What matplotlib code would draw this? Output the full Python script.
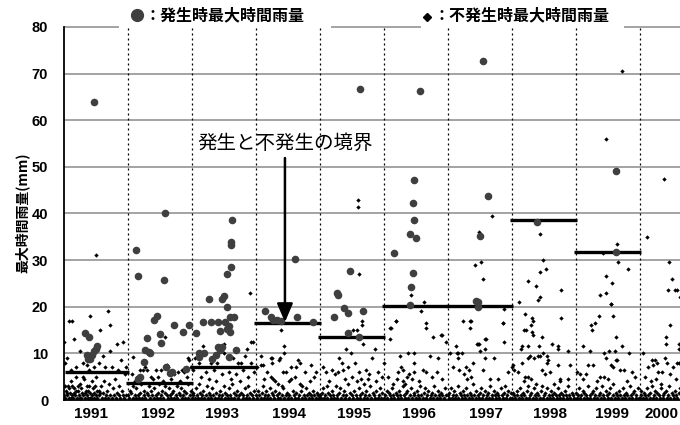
import matplotlib
matplotlib.use("Agg")
import matplotlib.pyplot as plt
from matplotlib.lines import Line2D

# ---------------- data ----------------
years = [1991, 1992, 1993, 1994, 1995, 1996, 1997, 1998, 1999, 2000]
year_labels = ["1991", "1992", "1993", "1994", "1995", "1996", "1997", "1998", "1999", "2000"]
# boundary (threshold) between occurrence / non-occurrence, per year (None = not drawn)
thresholds = [6.0, 3.7, 7.15, 16.45, 13.6, 20.2, 20.2, 38.5, 31.7, None]
y_ticks = [0, 10, 20, 30, 40, 50, 60, 70, 80]

# occurrence: (fraction of year, max hourly rainfall mm)
wet_1991 = [(.48, 64), (.34, 14.3), (.40, 13.5), (.36, 9.7), (.38, 8.9), (.41, 8.7), (.45, 9.7),
            (.47, 10.5), (.50, 10.9), (.53, 11.6)]
wet_1992 = [(.14, 32.2), (.59, 40.2), (.17, 26.7), (.57, 25.7), (.46, 18.1), (.41, 17.2), (.31, 13.2),
            (.51, 14.2), (.53, 12.2), (.27, 10.7), (.33, 10.4), (.35, 10.0), (.25, 8.2), (.60, 7.1),
            (.70, 6.1), (.67, 5.7), (.20, 5.0), (.17, 4.4), (.72, 16.1), (.87, 14.5), (.96, 16.1), (.92, 6.6)]
wet_1993 = [(.64, 38.6), (.61, 33.8), (.61, 33.3), (.62, 28.6), (.55, 27.0), (.28, 21.6), (.50, 22.2),
            (.48, 21.6), (.55, 20.0), (.18, 16.8), (.30, 16.8), (.42, 16.8), (.52, 16.8), (.60, 17.7),
            (.66, 17.7), (.59, 15.9), (.55, 15.2), (.60, 14.5), (.45, 14.7), (.07, 14.3), (.11, 10.0),
            (.12, 9.2), (.20, 10.0), (.32, 8.9), (.38, 9.7), (.42, 11.4), (.47, 11.3), (.45, 10.7),
            (.58, 9.2), (.69, 10.7)]
wet_1994 = [(.62, 30.2), (.15, 19.1), (.24, 17.7), (.28, 17.2), (.33, 17.2), (.40, 17.0), (.65, 17.7), (.90, 16.8)]
wet_1995 = [(.63, 66.8), (.27, 23.0), (.29, 22.5), (.47, 27.7), (.39, 19.7), (.45, 18.7), (.68, 19.1),
            (.23, 17.7), (.45, 14.3), (.61, 13.6)]
wet_1996 = [(.57, 66.2), (.48, 47.2), (.46, 42.2), (.48, 38.6), (.41, 35.7), (.51, 34.7), (.16, 31.6),
            (.46, 27.2), (.43, 24.2), (.41, 20.4)]
wet_1997 = [(.55, 72.8), (.63, 43.8), (.50, 35.2), (.45, 21.3), (.48, 21.1), (.47, 20.0)]
wet_1998 = [(.40, 38.2)]
wet_1999 = [(.63, 49.2), (.63, 31.7)]
wet_2000 = []

# non-occurrence: (fraction of year, max hourly rainfall mm)
dry_1991 = [(.51, 31), (.42, 18), (.69, 19), (.13, 17), (.09, 17), (.72, 16), (.57, 15), (.17, 13), (.01, 12.5),
            (.83, 12), (.93, 12.5), (.73, 10.5), (.25, 10.5), (.61, 9.5), (.90, 8.5), (.05, 9), (.30, 8), (.47, 7),
            (.36, 7.5), (.75, 7), (.20, 7), (.55, 8), (.85, 6.5), (.65, 7), (.12, 6.5), (.40, 6.5), (.97, 7), (.02, 8),
            (.01, 1), (.03, .5), (.04, 2), (.06, 1), (.07, 3), (.09, .5), (.10, 1.5), (.12, 4), (.13, 1), (.15, .5),
            (.16, 2.5), (.18, 1), (.19, 5), (.21, .5), (.22, 2), (.24, 1), (.26, 3.5), (.27, .5), (.29, 1.5),
            (.31, 1), (.32, 4.5), (.34, .5), (.35, 2), (.37, 1), (.38, .5), (.40, 3), (.42, 1.5), (.43, .5),
            (.45, 1), (.46, 2.5), (.48, .5), (.50, 5), (.51, 1), (.53, .5), (.55, 2), (.56, 1), (.58, 3), (.60, .5),
            (.61, 1.5), (.63, 4), (.65, .5), (.66, 1), (.68, 2), (.70, .5), (.71, 3.5), (.73, 1), (.75, .5),
            (.77, 2.5), (.79, 1), (.80, 4.5), (.82, .5), (.84, 1.5), (.86, 1), (.87, 3), (.89, .5), (.91, 2),
            (.93, 1), (.95, .5), (.96, 5.5), (.98, 1), (.02, 3), (.05, 1.5), (.08, 2.5), (.11, .5), (.14, 3),
            (.17, 1.5), (.20, 2), (.23, 3), (.25, .5), (.28, 2.5), (.30, 5), (.33, 1.5), (.36, 3), (.39, 2),
            (.41, .5), (.44, 4), (.47, 1.5), (.49, 3), (.52, 2), (.57, 1.5)]
dry_1992 = [(.08, 9.3), (.20, 6.5), (.24, 6.5), (.31, 6.5), (.44, 6.5), (.52, 6.5), (.62, 7.5), (.07, 5.5),
            (.58, 13.5), (.94, 9), (.96, 8.5), (.64, 7), (.79, 6), (.85, 6.5), (.89, 6), (.36, 5), (.48, 5), (.15, 5),
            (.72, 5.5), (.99, 7), (.28, 7), (.40, 4.5), (.55, 4), (.68, 4.5), (.82, 4), (.12, 4), (.93, 5),
            (.01, 1), (.02, .5), (.04, 2), (.06, 1.5), (.08, .5), (.09, 3), (.11, 1), (.13, .5), (.14, 2.5), (.16, 1),
            (.18, .5), (.19, 1.5), (.21, 3.5), (.23, .5), (.25, 1), (.26, 2), (.28, .5), (.30, 1.5), (.32, 1),
            (.33, 3), (.35, .5), (.37, 2), (.39, 1), (.41, .5), (.42, 2.5), (.44, 1), (.46, .5), (.47, 1.5),
            (.49, 3.5), (.51, .5), (.53, 1), (.54, 2), (.56, .5), (.58, 1.5), (.59, 3), (.61, 1), (.63, .5),
            (.65, 2.5), (.66, 1), (.68, .5), (.70, 1.5), (.71, 2), (.73, .5), (.75, 1), (.77, 3), (.78, .5),
            (.80, 1.5), (.82, 1), (.84, 2.5), (.85, .5), (.87, 1), (.89, 2), (.90, .5), (.92, 1.5), (.94, 3.5),
            (.95, .5), (.97, 1), (.99, 2)]
dry_1993 = [(.91, 23), (.96, 12.5), (.18, 11.5), (.50, 12), (.93, 12.5), (.83, 9.5), (.78, 8), (.93, 8), (.51, 10),
            (.06, 9), (.30, 8), (.65, 9), (.72, 8), (.40, 8), (.12, 8), (.86, 11), (.03, 6.5), (.22, 6), (.35, 6.5),
            (.47, 5.5), (.58, 6), (.70, 5.5), (.80, 6.5), (.88, 5), (.15, 5), (.27, 4.5), (.62, 4.5), (.97, 6),
            (.00, .5), (.02, 1.5), (.03, 1), (.05, .5), (.07, 2.5), (.08, 1), (.10, .5), (.12, 3.5), (.13, 1.5),
            (.15, .5), (.17, 1), (.18, 2), (.20, .5), (.22, 1), (.24, 3), (.25, .5), (.27, 1.5), (.29, 1), (.31, .5),
            (.32, 2.5), (.34, 1), (.36, .5), (.38, 4), (.39, 1.5), (.41, .5), (.43, 1), (.45, 2), (.46, .5),
            (.48, 1), (.50, 3), (.52, .5), (.53, 1.5), (.55, 1), (.57, .5), (.59, 2.5), (.60, 1), (.62, .5),
            (.64, 3.5), (.66, 1.5), (.67, .5), (.69, 1), (.71, 2), (.73, .5), (.74, 1), (.76, 4), (.78, 1.5),
            (.80, .5), (.81, 1), (.83, 2.5), (.85, .5), (.87, 1), (.88, 3), (.90, .5), (.92, 1.5), (.94, 1),
            (.96, .5), (.98, 2)]
dry_1994 = [(.40, 15), (.44, 11.5), (.44, 10), (.24, 9), (.26, 8), (.36, 8.5), (.69, 8), (.63, 7), (.87, 7.5),
            (.43, 6), (.48, 6), (.08, 9.5), (.67, 8.5), (.09, 7.5), (.11, 7.5), (.25, 9), (.38, 9), (.55, 7), (.95, 6),
            (.18, 6), (.78, 6), (.03, 7), (.24, 5), (.28, 4.5), (.30, 4), (.52, 4), (.55, 4.5), (.35, 3.5), (.42, 3),
            (.70, 3.5), (.73, 3), (.62, 5), (.85, 4), (.14, 4.5), (.92, 5),
            (.01, 1), (.03, .5), (.04, 2), (.06, 1), (.08, .5), (.10, 1.5), (.11, 3), (.13, .5), (.15, 1), (.17, 2),
            (.18, .5), (.20, 1), (.22, 2.5), (.23, .5), (.26, 1.5), (.28, 1), (.29, .5), (.31, 2), (.33, 1),
            (.35, .5), (.37, 1.5), (.39, .5), (.41, 1), (.43, 2.5), (.45, .5), (.47, 1), (.49, 1.5), (.50, .5),
            (.53, 1), (.56, .5), (.58, 2), (.60, 1), (.61, .5), (.64, 1.5), (.66, .5), (.68, 1), (.71, 2),
            (.72, .5), (.75, 1), (.77, .5), (.79, 2.5), (.81, 1), (.83, .5), (.84, 1.5), (.86, 1), (.88, .5),
            (.90, 2), (.92, 1), (.94, .5), (.96, 1.5), (.98, 1), (.99, .5)]
dry_1995 = [(.60, 43), (.60, 41.5), (.62, 27), (.66, 17), (.67, 16), (.58, 15), (.68, 12), (.41, 11), (.49, 10),
            (.53, 15), (.87, 11), (.31, 9), (.35, 8), (.20, 6.5), (.29, 6), (.36, 6.5), (.24, 5.5), (.73, 6.5),
            (.78, 5.5), (.65, 4.5), (.76, 4.5), (.45, 7), (.62, 6), (.92, 6), (.10, 6), (.05, 7), (.55, 8), (.82, 9),
            (.15, 4), (.40, 4.5), (.50, 5), (.58, 4), (.70, 3.5), (.88, 4), (.97, 5),
            (.00, 1), (.02, .5), (.04, 1.5), (.05, 2.5), (.07, .5), (.09, 1), (.11, 3), (.12, .5), (.14, 1.5),
            (.16, 1), (.18, .5), (.19, 2), (.21, 1), (.23, .5), (.25, 3), (.27, 1), (.28, .5), (.30, 1.5),
            (.32, 2.5), (.34, .5), (.36, 1), (.38, 2), (.40, .5), (.42, 1), (.44, 3.5), (.46, .5), (.48, 1.5),
            (.51, 1), (.52, .5), (.54, 2), (.57, 1), (.59, .5), (.61, 2.5), (.63, 1), (.64, .5), (.67, 1.5),
            (.69, .5), (.71, 1), (.72, 2), (.74, .5), (.77, 1), (.79, 3), (.80, .5), (.83, 1.5), (.85, 1),
            (.86, .5), (.89, 2), (.91, .5), (.93, 1), (.94, 2.5), (.96, .5), (.98, 1.5)]
dry_1996 = [(.20, 17), (.10, 15.5), (.10, 13), (.67, 16.5), (.66, 15.5), (.77, 13.5), (.90, 14), (.98, 12.5),
            (.43, 22.5), (.58, 19), (.19, 17), (.12, 15.5), (.64, 21), (.91, 14), (.26, 9.5), (.39, 10), (.47, 10),
            (.01, 8), (.47, 8), (.72, 9.5), (.85, 9), (.47, 6), (.62, 6.5), (.67, 6), (.83, 6), (.28, 7), (.31, 6.5),
            (.23, 6), (.40, 5.5), (.36, 5), (.44, 4.5), (.30, 4), (.34, 3.5), (.21, 4.5), (.55, 4), (.75, 5),
            (.92, 4.5), (.07, 5), (.15, 3.5),
            (.01, .5), (.03, 1), (.05, 2), (.06, .5), (.08, 1.5), (.10, 1), (.12, .5), (.13, 2.5), (.15, 1),
            (.17, .5), (.19, 1.5), (.21, 1), (.23, .5), (.24, 2), (.26, 1), (.28, .5), (.30, 3), (.32, 1),
            (.33, .5), (.35, 1.5), (.37, 2), (.39, .5), (.41, 1), (.43, 2.5), (.45, .5), (.47, 1.5), (.48, 1),
            (.50, .5), (.52, 2), (.54, 1), (.56, .5), (.57, 3), (.59, 1), (.61, .5), (.63, 1.5), (.65, 2.5),
            (.66, .5), (.68, 1), (.70, 2), (.72, .5), (.74, 1), (.76, 1.5), (.78, .5), (.79, 3), (.81, 1),
            (.83, .5), (.85, 2), (.87, 1), (.88, .5), (.90, 1.5), (.92, 1), (.94, .5), (.96, 2.5), (.98, 1)]
dry_1997 = [(.43, 29), (.53, 29.5), (.56, 26), (.49, 36), (.69, 39.5), (.24, 17), (.35, 17), (.35, 15.5),
            (.86, 16.5), (.88, 12.5), (.13, 11.5), (.47, 12), (.59, 13), (.59, 11), (.51, 10.5), (.16, 10), (.22, 10),
            (.89, 19.5), (.87, 16.5), (.60, 13), (.49, 12), (.73, 9), (.58, 9), (.56, 6.5), (.04, 10), (.15, 10),
            (.17, 9), (.40, 8), (.29, 7), (.18, 6.5), (.34, 6.5), (.25, 5.5), (.30, 4.5), (.37, 5), (.67, 4.5),
            (.79, 4.5), (.46, 12), (.36, 17), (.08, 7), (.95, 6),
            (.00, 1), (.02, .5), (.03, 1.5), (.05, 2.5), (.07, .5), (.08, 1), (.10, 2), (.12, .5), (.14, 1),
            (.16, 3), (.17, .5), (.19, 1.5), (.21, 1), (.22, .5), (.24, 2), (.26, 1), (.28, .5), (.29, 2.5),
            (.31, 1), (.33, .5), (.35, 1.5), (.37, 1), (.38, .5), (.40, 3.5), (.42, 1), (.44, .5), (.45, 2),
            (.47, 1), (.49, .5), (.51, 1.5), (.53, 2.5), (.54, .5), (.56, 1), (.58, 2), (.60, .5), (.61, 1),
            (.63, 1.5), (.65, .5), (.67, 3), (.69, 1), (.70, .5), (.72, 2), (.74, 1), (.76, .5), (.77, 1.5),
            (.79, 1), (.81, .5), (.83, 2.5), (.85, 1), (.86, .5), (.88, 1.5), (.90, 3), (.92, .5), (.93, 1),
            (.95, 2), (.97, .5), (.99, 1.5)]
dry_1998 = [(.45, 35.5), (.49, 30), (.45, 27.5), (.54, 28), (.26, 25.5), (.38, 24.5), (.42, 21.5), (.45, 22),
            (.11, 21), (.77, 23.5), (.21, 18.5), (.32, 17.5), (.33, 17), (.30, 16), (.19, 15), (.32, 14.5),
            (.47, 13.5), (.78, 17.5), (.63, 12), (.73, 11.5), (.16, 11.5), (.26, 11.5), (.43, 11.5), (.88, 10.5),
            (.22, 15), (.33, 14), (.73, 11), (.15, 11), (.25, 9), (.29, 9.5), (.35, 9), (.41, 9.5), (.44, 9.5),
            (.49, 10), (.55, 9.5), (.00, 7), (.03, 7.5), (.16, 8), (.55, 8), (.57, 8.5), (.73, 7.5), (.91, 7.5),
            (.04, 6.5), (.10, 6), (.21, 5), (.25, 5), (.31, 4.5), (.20, 4), (.48, 6.5), (.52, 5.5), (.60, 6),
            (.75, 4.5), (.76, 4), (.88, 4.5), (.66, 3.5), (.38, 3.5),
            (.01, .5), (.02, 1.5), (.04, 1), (.06, .5), (.08, 2), (.09, 1), (.11, .5), (.13, 2.5), (.15, 1),
            (.17, .5), (.18, 1.5), (.20, 1), (.22, .5), (.24, 2), (.26, 3), (.27, .5), (.29, 1), (.31, 1.5),
            (.33, .5), (.35, 2.5), (.36, 1), (.38, .5), (.40, 1.5), (.42, 1), (.44, .5), (.46, 2), (.47, 3),
            (.49, .5), (.51, 1), (.53, 1.5), (.55, .5), (.56, 2.5), (.58, 1), (.60, .5), (.62, 2), (.63, 1),
            (.65, .5), (.67, 1.5), (.69, 1), (.71, .5), (.72, 2.5), (.74, 1), (.76, .5), (.78, 1.5), (.80, 1),
            (.81, .5), (.83, 2), (.85, 1), (.87, .5), (.89, 3), (.90, 1), (.92, .5), (.94, 1.5), (.96, 1), (.98, .5)]
dry_1999 = [(.72, 70.5), (.48, 56), (.65, 33.5), (.43, 31.5), (.82, 28), (.47, 26.5), (.57, 25), (.39, 22.5),
            (.48, 23), (.56, 20.5), (.66, 29.5), (.55, 20.5), (.37, 18), (.58, 18), (.30, 16.5), (.24, 16),
            (.26, 15), (.63, 13.5), (.73, 11.5), (.12, 11.5), (.22, 10.5), (.45, 10), (.53, 10.5), (.61, 10.5),
            (.84, 10), (.48, 9), (.63, 8.5), (.65, 8.5), (.19, 7.5), (.27, 7.5), (.70, 6.5), (.75, 6.5), (.55, 7.5),
            (.58, 7), (.03, 6), (.07, 5.5), (.17, 5.5), (.88, 6), (.38, 5), (.45, 5), (.50, 4.5), (.12, 4.5),
            (.80, 4), (.93, 5), (.33, 4),
            (.00, 1.5), (.02, .5), (.04, 1), (.05, 2.5), (.07, .5), (.09, 1), (.11, 2), (.13, .5), (.14, 1.5),
            (.16, 1), (.18, .5), (.20, 3), (.22, 1), (.23, .5), (.25, 1.5), (.27, 2), (.29, .5), (.31, 1),
            (.32, 2.5), (.34, .5), (.36, 1), (.38, 1.5), (.40, .5), (.41, 3), (.43, 1), (.45, .5), (.47, 2),
            (.49, 1), (.50, .5), (.52, 1.5), (.54, 2.5), (.56, .5), (.58, 1), (.59, 3.5), (.61, .5), (.63, 1.5),
            (.65, 1), (.67, .5), (.68, 2), (.70, 1), (.72, .5), (.74, 2.5), (.76, 1), (.77, .5), (.79, 1.5),
            (.81, 1), (.83, .5), (.85, 3), (.86, 1), (.88, .5), (.90, 1.5), (.92, 2), (.94, .5), (.95, 1),
            (.97, 2.5), (.99, .5)]
dry_2000 = [(.39, 47.5), (.12, 35), (.46, 29.5), (.51, 26), (.45, 23.5), (.55, 23.5), (.63, 22), (.58, 23.5),
            (.48, 16), (.41, 13.5), (.42, 12), (.61, 12), (.61, 11), (.63, 11), (.05, 10), (.19, 8.5), (.24, 8.5),
            (.28, 8), (.40, 9), (.43, 8), (.14, 7), (.21, 7.5), (.29, 6), (.35, 6), (.58, 8), (.62, 8), (.66, 9),
            (.53, 7), (.47, 5.5), (.08, 5), (.25, 4.5), (.18, 4), (.57, 4.5), (.33, 3.5),
            (.00, .5), (.02, 1), (.03, 2), (.05, .5), (.07, 1.5), (.09, 1), (.10, .5), (.12, 2.5), (.14, 1),
            (.16, .5), (.17, 1.5), (.19, 3), (.21, .5), (.23, 1), (.24, 2), (.26, .5), (.28, 1.5), (.30, 1),
            (.32, .5), (.34, 2.5), (.36, 1), (.37, .5), (.39, 1.5), (.41, 2), (.43, .5), (.45, 1), (.46, 3),
            (.48, .5), (.50, 1.5), (.52, 1), (.54, .5), (.55, 2), (.57, 1), (.59, .5), (.61, 1.5), (.63, 2.5)]

wet_by_year = [wet_1991, wet_1992, wet_1993, wet_1994, wet_1995, wet_1996, wet_1997, wet_1998, wet_1999, wet_2000]
dry_by_year = [dry_1991, dry_1992, dry_1993, dry_1994, dry_1995, dry_1996, dry_1997, dry_1998, dry_1999, dry_2000]

# ---------------- figure ----------------
W, H = 680, 425
fig = plt.figure(figsize=(W / 100, H / 100), dpi=100)
L, R, B, T = 63.5, 680, 400, 27
ax = fig.add_axes([L / W, 1 - B / H, (R - L) / W, (B - T) / H])
ax.set_xlim(0, (R - L) / 64.0)
ax.set_ylim(0, 80)

cjk = ["Noto Sans CJK JP", "DejaVu Sans"]
numfont = ["Liberation Sans Narrow", "Liberation Sans", "DejaVu Sans"]

# grid
for yv in y_ticks[1:-1]:
    ax.axhline(yv, color="#8a8a8a", lw=1.1, zorder=1)
# top line broken by the legend texts
for x0, x1 in [(L, 119), (331, 421), (624, R)]:
    ax.hlines(80, (x0 - L) / 64, (x1 - L) / 64, color="#8a8a8a", lw=1.1, zorder=1, clip_on=False)
for i in range(1, len(years)):
    ax.axvline(i, color="black", lw=0.9, ls=(0, (1.6, 2.4)), zorder=1)

for s in ["top", "right"]:
    ax.spines[s].set_visible(False)
for s in ["left", "bottom"]:
    ax.spines[s].set_color("black")
    ax.spines[s].set_linewidth(1.3)

# points
for i, pts in enumerate(dry_by_year):
    if pts:
        ax.scatter([i + f for f, v in pts], [v for f, v in pts], marker="D", s=5, color="black",
                   linewidths=0, zorder=3, clip_on=True)
for i, pts in enumerate(wet_by_year):
    if pts:
        ax.scatter([i + f for f, v in pts], [v for f, v in pts], marker="o", s=30, color="#3f3f3f",
                   linewidths=0, zorder=5, clip_on=True)

# thresholds
for i, th in enumerate(thresholds):
    if th is not None:
        ax.hlines(th, max(i - 0.02, 0.02), i + 1.02, color="black", lw=2.4, zorder=4)

# annotation
ax.annotate("", xy=(3.46, 16.7), xytext=(3.46, 51.9),
            arrowprops=dict(arrowstyle="-|>,head_length=0.7,head_width=0.3", color="black",
                            lw=1.8, mutation_scale=16, shrinkA=0, shrinkB=0), zorder=6)
ax.text(3.46, 55.1, "発生と不発生の境界", ha="center", va="center", fontsize=14, family=cjk, zorder=6)

# ticks
ax.set_yticks(y_ticks)
ax.set_yticklabels([str(v) for v in y_ticks], family=numfont, fontweight="bold", fontsize=10.5)
tick_pos = [0.43, 1.48, 2.48, 3.52, 4.54, 5.55, 6.60, 7.60, 8.57, 9.34]
ax.set_xticks(tick_pos)
ax.set_xticklabels(year_labels, family=numfont, fontweight="bold", fontsize=11)
ax.tick_params(axis="y", length=0, pad=11)
ax.tick_params(axis="x", length=0, pad=5)

# y label
fig.text(22 / W, 1 - 213 / H, "最大時間雨量(mm)", rotation=90, ha="center", va="center",
         fontsize=10, fontweight="bold", family=cjk)

# legend
fig.add_artist(Line2D([137 / W], [1 - 15 / H], marker="o", ms=8.5, color="#3f3f3f", lw=0,
                      transform=fig.transFigure))
fig.text(145 / W, 1 - 15 / H, "：発生時最大時間雨量", ha="left", va="center", fontsize=11.5,
         fontweight="bold", family=cjk)
fig.add_artist(Line2D([427 / W], [1 - 17 / H], marker="D", ms=4, color="black", lw=0,
                      transform=fig.transFigure))
fig.text(434 / W, 1 - 15 / H, "：不発生時最大時間雨量", ha="left", va="center", fontsize=11.5,
         fontweight="bold", family=cjk)

fig.savefig("out.png", dpi=100)
